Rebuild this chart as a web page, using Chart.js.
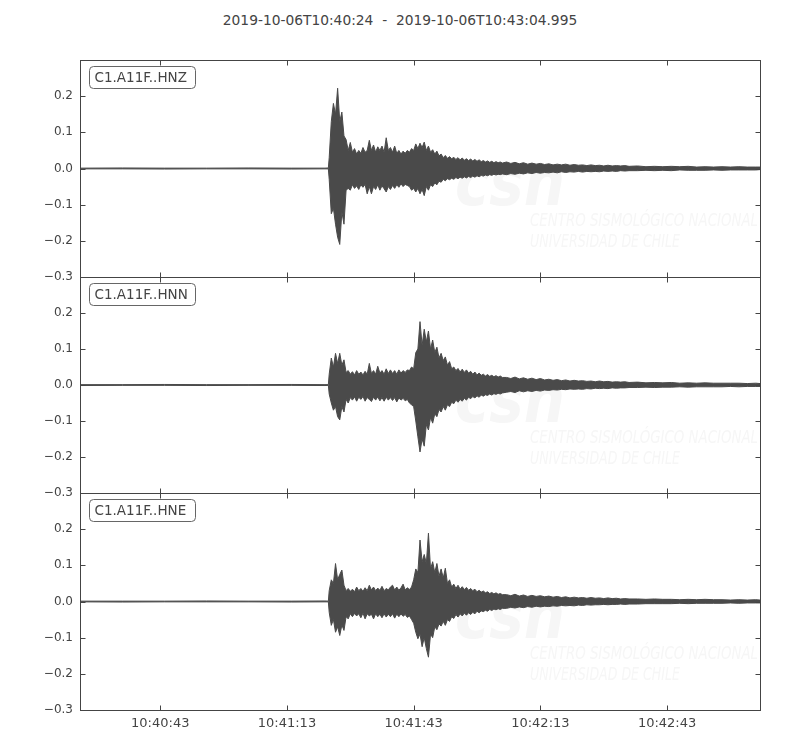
<!DOCTYPE html>
<html>
<head>
<meta charset="utf-8">
<script src="https://cdn.jsdelivr.net/npm/chart.js@4.4.0/dist/chart.umd.min.js"></script>
<style>
  html, body { margin: 0; padding: 0; background: #fff; }
  #wrap { position: relative; width: 800px; height: 750px; }
  #wrap canvas { position: absolute; left: 0; top: 0; }
  #title {
    position: absolute; top: 12px; left: 0; width: 800px; text-align: center;
    font: 13.8px "DejaVu Sans", sans-serif; color: #444; white-space: pre;
  }
</style>
</head>
<body>
<div id="wrap">
  <div id="title">2019-10-06T10:40:24  -  2019-10-06T10:43:04.995</div>
  <canvas id="hnz" width="800" height="750"></canvas>
  <canvas id="hnn" width="800" height="750"></canvas>
  <canvas id="hne" width="800" height="750"></canvas>
</div>
<script>
// seconds after 10:40:24
const times = [
  0, 10, 20, 30, 40, 50, 58, 58.8,
  59, 59.5, 60, 60.5, 61, 61.5, 62, 62.5, 63, 63.5,
  64, 64.5, 65, 65.5, 66, 66.5, 67, 67.5, 68, 68.5,
  69, 69.5, 70, 70.5, 71, 71.5, 72, 72.5, 73, 73.5,
  74, 74.5, 75, 75.5, 76, 76.5, 77, 77.5, 78, 78.5,
  79, 79.5, 80, 80.5, 81, 81.5, 82, 82.5, 83, 83.5,
  84, 84.5, 85, 85.5, 86, 86.5, 87, 87.5, 88, 88.5,
  89, 89.5, 90, 90.5, 91, 91.5, 92, 92.5, 93, 93.5,
  94, 94.5, 95, 95.5, 96, 96.5, 97, 97.5, 98, 98.5,
  99, 99.5, 100,
  101, 102, 103, 104, 105, 106, 107, 108, 109, 110,
  111, 112, 113, 114, 115, 116, 117, 118, 119, 120,
  121, 122, 123, 124, 125, 126, 127, 128, 129, 130,
  132, 134, 136, 138, 140, 142, 144, 146, 148, 150, 152, 154, 156, 158, 160, 161
];

// envelope (max / min) of each trace
const hnzMax = [
  0.001, 0.0015, 0.001, 0.001, 0.0015, 0.001, 0.001, 0.0015,
  0.03, 0.13, 0.18, 0.15, 0.222, 0.13, 0.156, 0.09, 0.08, 0.05,
  0.072, 0.045, 0.055, 0.04, 0.05, 0.042, 0.058, 0.045, 0.05, 0.078,
  0.05, 0.065, 0.045, 0.06, 0.05, 0.062, 0.045, 0.085, 0.05, 0.058,
  0.045, 0.062, 0.042, 0.05, 0.04, 0.048, 0.042, 0.05, 0.045, 0.055,
  0.05, 0.068, 0.055, 0.07, 0.058, 0.073, 0.05, 0.062, 0.045, 0.052,
  0.04, 0.048, 0.035, 0.04, 0.03, 0.036, 0.028, 0.033, 0.027, 0.031,
  0.025, 0.03, 0.024, 0.029, 0.023, 0.027, 0.022, 0.026, 0.021, 0.025,
  0.02, 0.024, 0.019, 0.022, 0.018, 0.021, 0.017, 0.02, 0.016, 0.019,
  0.016, 0.018, 0.015,
  0.018, 0.014, 0.017, 0.013, 0.016, 0.012, 0.015, 0.012, 0.014, 0.011,
  0.013, 0.01, 0.012, 0.01, 0.012, 0.009, 0.011, 0.009, 0.01, 0.008,
  0.01, 0.008, 0.009, 0.007, 0.009, 0.007, 0.008, 0.007, 0.008, 0.006,
  0.007, 0.005, 0.006, 0.005, 0.006, 0.005, 0.006, 0.004, 0.005, 0.004, 0.005, 0.004, 0.005, 0.004, 0.004, 0.004
];
const hnzMin = [
  -0.001, -0.001, -0.0015, -0.001, -0.001, -0.0015, -0.001, -0.001,
  -0.03, -0.125, -0.11, -0.154, -0.19, -0.21, -0.12, -0.154, -0.06, -0.055,
  -0.06, -0.045, -0.055, -0.048, -0.058, -0.045, -0.052, -0.044, -0.07, -0.05,
  -0.07, -0.05, -0.058, -0.045, -0.06, -0.048, -0.056, -0.065, -0.05, -0.058,
  -0.047, -0.055, -0.045, -0.052, -0.042, -0.05, -0.044, -0.047, -0.05, -0.06,
  -0.055, -0.065, -0.055, -0.07, -0.058, -0.075, -0.05, -0.06, -0.045, -0.05,
  -0.04, -0.045, -0.035, -0.038, -0.03, -0.034, -0.028, -0.031, -0.027, -0.03,
  -0.025, -0.028, -0.024, -0.027, -0.023, -0.026, -0.022, -0.025, -0.021, -0.024,
  -0.02, -0.023, -0.019, -0.021, -0.018, -0.02, -0.017, -0.019, -0.016, -0.018,
  -0.016, -0.017, -0.015,
  -0.017, -0.014, -0.016, -0.013, -0.015, -0.012, -0.014, -0.011, -0.013, -0.011,
  -0.012, -0.01, -0.012, -0.009, -0.011, -0.009, -0.01, -0.008, -0.01, -0.008,
  -0.009, -0.008, -0.009, -0.007, -0.008, -0.007, -0.008, -0.006, -0.007, -0.006,
  -0.006, -0.005, -0.006, -0.005, -0.006, -0.004, -0.005, -0.005, -0.005, -0.004, -0.005, -0.004, -0.004, -0.004, -0.004, -0.003
];
const hnnMax = [
  0.001, 0.001, 0.0015, 0.001, 0.001, 0.0015, 0.001, 0.001,
  0.03, 0.075, 0.05, 0.088, 0.06, 0.088, 0.055, 0.07, 0.035, 0.04,
  0.03, 0.037, 0.028, 0.04, 0.03, 0.036, 0.028, 0.038, 0.03, 0.06,
  0.032, 0.04, 0.03, 0.052, 0.033, 0.04, 0.03, 0.045, 0.032, 0.042,
  0.032, 0.04, 0.03, 0.042, 0.033, 0.04, 0.035, 0.042, 0.04, 0.05,
  0.045, 0.09, 0.1, 0.176, 0.11, 0.155, 0.12, 0.15, 0.1, 0.125,
  0.09, 0.105, 0.075, 0.088, 0.068, 0.078, 0.055, 0.065, 0.045, 0.05,
  0.04, 0.046, 0.036, 0.044, 0.035, 0.042, 0.033, 0.038, 0.03, 0.036,
  0.028, 0.033, 0.027, 0.03, 0.025, 0.029, 0.024, 0.027, 0.023, 0.026,
  0.022, 0.025, 0.021,
  0.021, 0.018, 0.022, 0.017, 0.02, 0.016, 0.019, 0.015, 0.018, 0.014,
  0.016, 0.013, 0.015, 0.012, 0.014, 0.011, 0.013, 0.011, 0.012, 0.01,
  0.011, 0.009, 0.011, 0.009, 0.01, 0.008, 0.009, 0.008, 0.009, 0.007,
  0.008, 0.006, 0.007, 0.006, 0.007, 0.005, 0.006, 0.005, 0.006, 0.005, 0.005, 0.005, 0.005, 0.004, 0.005, 0.004
];
const hnnMin = [
  -0.0015, -0.001, -0.001, -0.0015, -0.001, -0.001, -0.0015, -0.001,
  -0.025, -0.05, -0.07, -0.06, -0.088, -0.097, -0.06, -0.075, -0.04, -0.05,
  -0.035, -0.042, -0.033, -0.045, -0.034, -0.04, -0.032, -0.045, -0.035, -0.04,
  -0.046, -0.034, -0.042, -0.033, -0.044, -0.035, -0.045, -0.034, -0.042, -0.035,
  -0.043, -0.035, -0.047, -0.036, -0.042, -0.037, -0.044, -0.04, -0.05, -0.055,
  -0.06, -0.1, -0.144, -0.186, -0.15, -0.17, -0.11, -0.125, -0.09, -0.106,
  -0.08, -0.088, -0.068, -0.075, -0.06, -0.07, -0.055, -0.06, -0.048, -0.052,
  -0.042, -0.048, -0.04, -0.045, -0.037, -0.042, -0.034, -0.038, -0.032, -0.036,
  -0.03, -0.034, -0.028, -0.031, -0.027, -0.029, -0.025, -0.028, -0.024, -0.026,
  -0.023, -0.025, -0.022,
  -0.02, -0.018, -0.021, -0.016, -0.019, -0.016, -0.018, -0.015, -0.017, -0.014,
  -0.015, -0.013, -0.014, -0.012, -0.013, -0.011, -0.012, -0.011, -0.012, -0.01,
  -0.011, -0.009, -0.01, -0.009, -0.01, -0.008, -0.009, -0.008, -0.008, -0.007,
  -0.007, -0.006, -0.007, -0.006, -0.006, -0.005, -0.006, -0.005, -0.005, -0.005, -0.005, -0.004, -0.005, -0.004, -0.004, -0.004
];
const hneMax = [
  0.001, 0.001, 0.001, 0.0015, 0.001, 0.001, 0.0015, 0.001,
  0.03, 0.06, 0.05, 0.105, 0.06, 0.075, 0.087, 0.045, 0.03, 0.036,
  0.028, 0.034, 0.027, 0.04, 0.03, 0.036, 0.028, 0.038, 0.03, 0.045,
  0.032, 0.04, 0.03, 0.037, 0.031, 0.042, 0.03, 0.036, 0.032, 0.04,
  0.045, 0.032, 0.04, 0.031, 0.038, 0.048, 0.032, 0.038, 0.033, 0.04,
  0.06, 0.09, 0.08, 0.17, 0.11, 0.13, 0.105, 0.189, 0.09, 0.11,
  0.08, 0.105, 0.07, 0.09, 0.065, 0.092, 0.05, 0.06, 0.04, 0.048,
  0.036, 0.045, 0.034, 0.041, 0.033, 0.039, 0.031, 0.036, 0.03, 0.034,
  0.027, 0.031, 0.026, 0.029, 0.024, 0.027, 0.022, 0.025, 0.021, 0.024,
  0.02, 0.022, 0.019,
  0.019, 0.016, 0.02, 0.015, 0.018, 0.014, 0.017, 0.014, 0.016, 0.013,
  0.015, 0.012, 0.014, 0.011, 0.013, 0.01, 0.012, 0.01, 0.011, 0.009,
  0.011, 0.009, 0.01, 0.008, 0.01, 0.008, 0.009, 0.007, 0.008, 0.007,
  0.007, 0.006, 0.007, 0.006, 0.006, 0.005, 0.006, 0.005, 0.006, 0.005, 0.005, 0.004, 0.005, 0.004, 0.005, 0.004
];
const hneMin = [
  -0.001, -0.0015, -0.001, -0.001, -0.001, -0.0015, -0.001, -0.001,
  -0.03, -0.066, -0.05, -0.085, -0.07, -0.094, -0.065, -0.08, -0.042, -0.048,
  -0.034, -0.042, -0.033, -0.04, -0.034, -0.045, -0.032, -0.048, -0.034, -0.04,
  -0.035, -0.048, -0.034, -0.042, -0.035, -0.045, -0.034, -0.043, -0.035, -0.042,
  -0.034, -0.046, -0.035, -0.042, -0.034, -0.041, -0.036, -0.044, -0.04, -0.05,
  -0.06, -0.085, -0.103, -0.09, -0.125, -0.1, -0.13, -0.154, -0.09, -0.1,
  -0.07, -0.078, -0.062, -0.068, -0.055, -0.066, -0.05, -0.055, -0.042, -0.047,
  -0.036, -0.043, -0.034, -0.04, -0.032, -0.038, -0.031, -0.036, -0.03, -0.034,
  -0.027, -0.031, -0.026, -0.028, -0.024, -0.027, -0.022, -0.025, -0.021, -0.023,
  -0.02, -0.022, -0.019,
  -0.019, -0.016, -0.018, -0.015, -0.017, -0.014, -0.016, -0.013, -0.015, -0.013,
  -0.014, -0.012, -0.013, -0.011, -0.012, -0.011, -0.012, -0.01, -0.011, -0.009,
  -0.01, -0.009, -0.009, -0.008, -0.009, -0.008, -0.008, -0.007, -0.008, -0.007,
  -0.007, -0.006, -0.006, -0.006, -0.006, -0.005, -0.006, -0.005, -0.005, -0.005, -0.005, -0.004, -0.005, -0.004, -0.004, -0.004
];

const channels = ['C1.A11F..HNZ', 'C1.A11F..HNN', 'C1.A11F..HNE'];
const xTickValues = [19, 49, 79, 109, 139];
const xTickLabels = ['10:40:43', '10:41:13', '10:41:43', '10:42:13', '10:42:43'];
const yTickValues = [-0.3, -0.2, -0.1, 0, 0.1, 0.2, 0.3];
const yTickLabels = ['\u22120.3', '\u22120.2', '\u22120.1', '0.0', '0.1', '0.2', ''];

const colorTrace = '#4a4a4a';
const colorFrame = '#444';
const colorText = '#444';
const colorMark = '#f6f6f6';

const panels = [
  { id: 'hnz', top: 60, bottom: 277, max: hnzMax, min: hnzMin, label: channels[0], showX: false },
  { id: 'hnn', top: 277, bottom: 493, max: hnnMax, min: hnnMin, label: channels[1], showX: false },
  { id: 'hne', top: 493, bottom: 710, max: hneMax, min: hneMin, label: channels[2], showX: true },
];

const toPoints = (vals) => vals.map((v, i) => ({ x: times[i], y: v }));

// frame, inward ticks, channel box and the faint watermark
const makeDecor = (panel) => ({
  id: 'decor',
  beforeDatasetsDraw(chart) {
    const { ctx, chartArea: a } = chart;
    ctx.save();
    ctx.beginPath();
    ctx.rect(a.left, a.top, a.right - a.left, a.bottom - a.top);
    ctx.clip();
    ctx.fillStyle = colorMark;
    ctx.textBaseline = 'alphabetic';
    ctx.font = 'italic bold 66px "DejaVu Sans", sans-serif';
    ctx.fillText('csn', a.left + 375, a.top + 145, 110);
    ctx.font = 'italic 17px "Liberation Sans Narrow", "DejaVu Sans Condensed", sans-serif';
    ctx.textBaseline = 'middle';
    ctx.fillText('CENTRO SISMOLÓGICO NACIONAL', a.left + 450, a.top + 162, 228);
    ctx.fillText('UNIVERSIDAD DE CHILE', a.left + 450, a.top + 183, 150);
    ctx.restore();
  },
  afterDraw(chart) {
    const { ctx, chartArea: a, scales } = chart;
    const L = Math.round(a.left) + 0.5;
    const R = Math.round(a.right) + 0.5;
    const T = Math.round(a.top) + 0.5;
    const B = Math.round(a.bottom) + 0.5;
    ctx.save();
    ctx.strokeStyle = colorFrame;
    ctx.lineWidth = 1;
    ctx.strokeRect(L, T, R - L, B - T);
    ctx.beginPath();
    yTickValues.forEach((v) => {
      const py = Math.round(scales.y.getPixelForValue(v)) + 0.5;
      ctx.moveTo(L, py); ctx.lineTo(L + 5, py);
      ctx.moveTo(R, py); ctx.lineTo(R - 5, py);
    });
    xTickValues.forEach((v) => {
      const px = Math.round(scales.x.getPixelForValue(v)) + 0.5;
      ctx.moveTo(px, T); ctx.lineTo(px, T + 5);
      ctx.moveTo(px, B); ctx.lineTo(px, B - 5);
    });
    ctx.stroke();

    // channel label box
    const bx = L + 9, by = T + 6, bw = 106, bh = 22, r = 4;
    ctx.beginPath();
    ctx.moveTo(bx + r, by);
    ctx.arcTo(bx + bw, by, bx + bw, by + bh, r);
    ctx.arcTo(bx + bw, by + bh, bx, by + bh, r);
    ctx.arcTo(bx, by + bh, bx, by, r);
    ctx.arcTo(bx, by, bx + bw, by, r);
    ctx.closePath();
    ctx.fillStyle = '#fff';
    ctx.fill();
    ctx.strokeStyle = '#666';
    ctx.stroke();
    ctx.fillStyle = colorText;
    ctx.font = '13.5px "DejaVu Sans", sans-serif';
    ctx.textBaseline = 'middle';
    ctx.textAlign = 'left';
    ctx.fillText(panel.label, bx + 5, by + bh / 2 + 1);
    ctx.restore();
  },
});

const setChartConfig = (panel) => ({
  type: 'line',
  data: {
    datasets: [
      {
        data: toPoints(panel.max),
        borderColor: colorTrace,
        backgroundColor: colorTrace,
        borderWidth: 1,
        pointRadius: 0,
        fill: '+1',
      },
      {
        data: toPoints(panel.min),
        borderColor: colorTrace,
        backgroundColor: colorTrace,
        borderWidth: 1,
        pointRadius: 0,
        fill: false,
      },
    ],
  },
  options: {
    responsive: false,
    animation: false,
    events: [],
    layout: {
      padding: {
        left: 0,
        right: 40,
        top: panel.top,
        bottom: panel.showX ? 0 : 750 - panel.bottom,
      },
    },
    scales: {
      x: {
        type: 'linear',
        min: 0,
        max: 161,
        display: panel.showX,
        grid: { display: false, drawTicks: false },
        border: { display: false },
        afterBuildTicks: (scale) => {
          scale.ticks = xTickValues.map((v) => ({ value: v }));
        },
        afterFit: (scale) => {
          scale.height = panel.showX ? 750 - panel.bottom : 0;
        },
        ticks: {
          autoSkip: false,
          maxRotation: 0,
          padding: 6,
          color: colorText,
          font: { family: 'DejaVu Sans', size: 13 },
          callback: (value) => xTickLabels[xTickValues.indexOf(value)],
        },
      },
      y: {
        min: -0.3,
        max: 0.3,
        grid: { display: false, drawTicks: false },
        border: { display: false },
        afterBuildTicks: (scale) => {
          scale.ticks = yTickValues.map((v) => ({ value: v }));
        },
        afterFit: (scale) => {
          scale.width = 80;
        },
        ticks: {
          autoSkip: false,
          padding: 7,
          color: colorText,
          font: { family: 'DejaVu Sans', size: 12 },
          callback: (value) => yTickLabels[yTickValues.indexOf(value)],
        },
      },
    },
    plugins: {
      legend: { display: false },
      tooltip: { enabled: false },
    },
  },
  plugins: [makeDecor(panel)],
});

panels.forEach((panel) => {
  new Chart(document.getElementById(panel.id), setChartConfig(panel));
});
</script>
</body>
</html>
